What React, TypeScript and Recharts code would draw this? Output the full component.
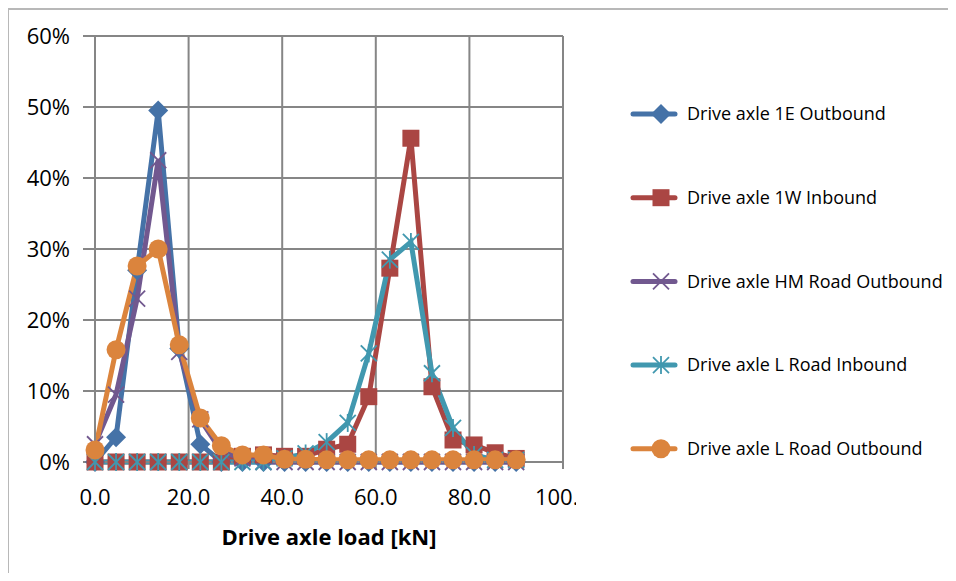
import React from "react";
import { LineChart, Line, XAxis, YAxis, CartesianGrid, Legend, Label } from "recharts";

const loads = [0, 4.5, 9, 13.5, 18, 22.5, 27, 31.5, 36, 40.5, 45, 49.5, 54, 58.5, 63, 67.5, 72, 76.5, 81, 85.5, 90];
const e1Out = [0, 3.5, 27, 49.5, 16, 2.5, 0, 0, 0, 0, 0, 0, 0, 0, 0, 0, 0, 0, 0, 0, 0];
const w1In = [0, 0, 0, 0, 0, 0, 0, 0.8, 1.0, 0.8, 0.8, 1.8, 2.5, 9.2, 27.3, 45.6, 10.6, 3.1, 2.4, 1.3, 0.5];
const hmOut = [2.5, 9.5, 23, 42.5, 15.5, 6, 1.5, 0.5, 0, 0, 0, 0, 0, 0, 0, 0, 0, 0, 0, 0, 0];
const lIn = [0, 0, 0, 0, 0, 0, 0, 0, 0, 0.5, 1.2, 2.8, 5.5, 15.3, 28.5, 31, 12.5, 4.8, 1.0, 0.3, 0.3];
const lOut = [1.7, 15.8, 27.6, 30, 16.5, 6.2, 2.3, 1.0, 1.0, 0.4, 0.4, 0.3, 0.3, 0.3, 0.3, 0.3, 0.3, 0.3, 0.3, 0.3, 0.3];

const xTicks = [0, 20, 40, 60, 80, 100];
const yTicks = [0, 10, 20, 30, 40, 50, 60];

const seriesNames = [
  "Drive axle 1E Outbound",
  "Drive axle 1W Inbound",
  "Drive axle HM Road Outbound",
  "Drive axle L Road Inbound",
  "Drive axle L Road Outbound",
];
const seriesKeys = ["e1Out", "w1In", "hmOut", "lIn", "lOut"];
const seriesColors = ["#4572A7", "#AA4643", "#71588F", "#4198AF", "#DB843D"];
const seriesShapes = ["diamond", "square", "x", "star", "circle"];

const data = loads.map((x, i) => ({
  x,
  e1Out: e1Out[i],
  w1In: w1In[i],
  hmOut: hmOut[i],
  lIn: lIn[i],
  lOut: lOut[i],
}));

const FONT = "'Open Sans', sans-serif";
const GRID = "#868686";

function Marker({ shape, cx, cy, color }: { shape: string; cx: number; cy: number; color: string }) {
  if (cx == null || cy == null || isNaN(cx) || isNaN(cy)) return null;
  if (shape === "diamond") {
    const r = 10;
    return <polygon points={`${cx},${cy - r} ${cx + r},${cy} ${cx},${cy + r} ${cx - r},${cy}`} fill={color} />;
  }
  if (shape === "square") {
    const s = 8.5;
    return <rect x={cx - s} y={cy - s} width={2 * s} height={2 * s} fill={color} />;
  }
  if (shape === "circle") {
    return <circle cx={cx} cy={cy} r={9.5} fill={color} />;
  }
  if (shape === "x") {
    const r = 8;
    return (
      <g stroke={color} strokeWidth={1.8}>
        <line x1={cx - r} y1={cy - r} x2={cx + r} y2={cy + r} />
        <line x1={cx - r} y1={cy + r} x2={cx + r} y2={cy - r} />
      </g>
    );
  }
  const r = 8;
  return (
    <g stroke={color} strokeWidth={1.8}>
      <line x1={cx - r} y1={cy - r} x2={cx + r} y2={cy + r} />
      <line x1={cx - r} y1={cy + r} x2={cx + r} y2={cy - r} />
      <line x1={cx} y1={cy - r - 1} x2={cx} y2={cy + r + 1} />
    </g>
  );
}

function makeDot(idx: number) {
  return (props: any) => (
    <Marker
      key={`${seriesKeys[idx]}-${props.index}`}
      shape={seriesShapes[idx]}
      cx={props.cx}
      cy={props.cy}
      color={seriesColors[idx]}
    />
  );
}

function XTick(props: any) {
  const { x, y, payload } = props;
  const id = `clipx-${payload.value}`;
  return (
    <g>
      <defs>
        <clipPath id={id}>
          <rect x={x - 60} y={y - 10} width={Math.min(120, 568 - (x - 60))} height={60} />
        </clipPath>
      </defs>
      <text
        x={x}
        y={y}
        dy="0.71em"
        textAnchor="middle"
        fontFamily={FONT}
        fontSize={22}
        fill="#000"
        clipPath={`url(#${id})`}
      >
        {Number(payload.value).toFixed(1)}
      </text>
    </g>
  );
}

function LegendContent() {
  return (
    <svg width={330} height={420}>
      {seriesNames.map((name, i) => {
        const cy = 24 + i * 83.7;
        return (
          <g key={name}>
            <line x1={13} y1={cy} x2={55} y2={cy} stroke={seriesColors[i]} strokeWidth={5} strokeLinecap="round" />
            <Marker shape={seriesShapes[i]} cx={41} cy={cy} color={seriesColors[i]} />
            <text x={67} y={cy} dy="0.35em" fontFamily={FONT} fontSize={18} fill="#000">
              {name}
            </text>
          </g>
        );
      })}
    </svg>
  );
}

export default function App() {
  return (
    <div style={{ position: "relative", width: 940, height: 565 }}>
      <div
        style={{
          position: "absolute",
          left: -1,
          top: 0,
          width: 960,
          height: 580,
          borderTop: "2px solid #b8b8b8",
          borderLeft: "2px solid #b8b8b8",
          boxSizing: "border-box",
          pointerEvents: "none",
        }}
      />
      <LineChart width={940} height={565} data={data} margin={{ top: 28, right: 385, bottom: 0, left: 0 }}>
        <CartesianGrid stroke={GRID} strokeWidth={2} />
        <XAxis
          dataKey="x"
          type="number"
          domain={[0, 100]}
          ticks={xTicks}
          height={111}
          axisLine={{ stroke: GRID, strokeWidth: 2 }}
          tickLine={{ stroke: GRID, strokeWidth: 2 }}
          tickSize={7}
          tickMargin={20}
          tick={<XTick />}
          interval={0}
        >
          <Label
            value="Drive axle load [kN]"
            position="insideBottom"
            offset={28}
            style={{ fontFamily: FONT, fontSize: 22, fontWeight: 700, fill: "#000" }}
          />
        </XAxis>
        <YAxis
          type="number"
          domain={[0, 60]}
          ticks={yTicks}
          width={87}
          axisLine={{ stroke: GRID, strokeWidth: 2 }}
          tickLine={{ stroke: GRID, strokeWidth: 2 }}
          tickSize={12}
          tickMargin={13}
          tickFormatter={(v: number) => `${v}%`}
          tick={{ fontFamily: FONT, fontSize: 22, fill: "#000" }}
          interval={0}
        />
        <Legend
          layout="vertical"
          align="center"
          verticalAlign="middle"
          content={<LegendContent />}
          wrapperStyle={{ left: 612, top: 82, width: 330, height: 420 }}
        />
        {seriesKeys.map((k, i) => (
          <Line
            key={k}
            type="linear"
            dataKey={k}
            name={seriesNames[i]}
            stroke={seriesColors[i]}
            strokeWidth={5}
            dot={makeDot(i)}
            activeDot={false}
            isAnimationActive={false}
          />
        ))}
      </LineChart>
    </div>
  );
}
